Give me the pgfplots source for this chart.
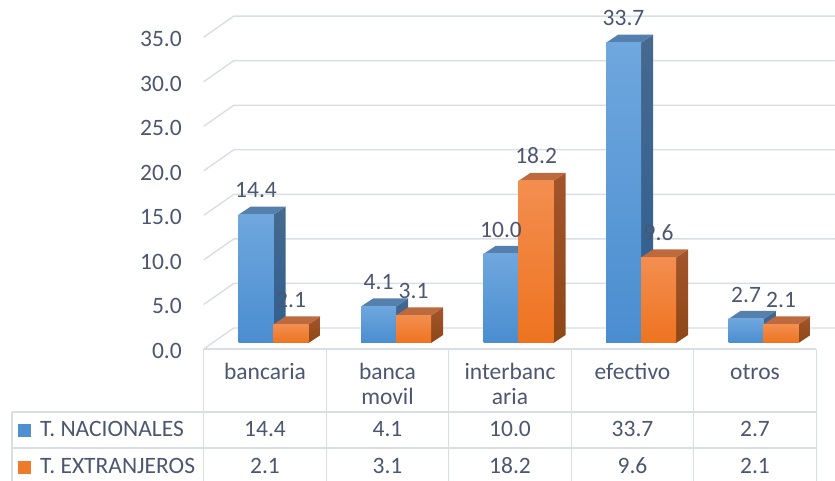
\documentclass[border=0pt]{standalone}
\usepackage{pgfplots}
\pgfplotsset{compat=1.18}
\usepackage{pgfplotstable}
\usepackage{fontspec}
\setmainfont{Carlito}

\definecolor{txt}{HTML}{4B5770}
\definecolor{gridc}{HTML}{D9DDE5}
\definecolor{bluefronttop}{HTML}{6FA7DE}
\definecolor{bluefrontbot}{HTML}{4A8DD0}
\definecolor{bluesidetop}{HTML}{46698F}
\definecolor{bluesidebot}{HTML}{2E5F90}
\definecolor{bluecap}{HTML}{5580AE}
\definecolor{orgfronttop}{HTML}{F38E50}
\definecolor{orgfrontbot}{HTML}{EE731F}
\definecolor{orgsidetop}{HTML}{A3552B}
\definecolor{orgsidebot}{HTML}{8E4716}
\definecolor{orgcap}{HTML}{BC6A3E}
\definecolor{bluekey}{HTML}{4F8FD2}
\definecolor{orgkey}{HTML}{EE7A2C}

\newcommand\lblfont{\fontsize{23.5}{24.5}\selectfont}
% category name on one or two lines, baseline at the first line
\newcommand\catlabel[2]{\begin{tabular}[t]{@{}c@{}}#1\\#2\end{tabular}}

% T. NACIONALES (nac) and T. EXTRANJEROS (ext) per payment type
\pgfplotstableread{
idx nac ext
0 14.4 2.1
1 4.1 3.1
2 10.0 18.2
3 33.7 9.6
4 2.7 2.1
}\tipos

% depth of the extruded columns, in axis units
\def\dX{0.098}
\def\dY{0.898}

% one 3-D column: x left, x right, value, front top/bottom, side top/bottom, cap colour
\newcommand\columnbox[8]{%
  \pgfmathsetmacro\xl{#1}%
  \pgfmathsetmacro\xr{#2}%
  \pgfmathsetmacro\xlb{#1+\dX}%
  \pgfmathsetmacro\xrb{#2+\dX}%
  \pgfmathsetmacro\vt{#3}%
  \pgfmathsetmacro\vb{#3+\dY}%
  \edef\drawcolumn{%
    \noexpand\addplot[draw=none, top color=#6, bottom color=#7, forget plot]
      coordinates {(\xr,0) (\xr,\vt) (\xrb,\vb) (\xrb,\dY)} -- cycle;
    \noexpand\addplot[draw=none, fill=#8, forget plot]
      coordinates {(\xl,\vt) (\xlb,\vb) (\xrb,\vb) (\xr,\vt)} -- cycle;
    \noexpand\addplot[draw=none, top color=#4, bottom color=#5, forget plot]
      coordinates {(\xl,0) (\xl,\vt) (\xr,\vt) (\xr,0)} -- cycle;
  }%
  \drawcolumn
}

\pgfplotsset{
  vlabel/.style={draw=none, mark=none, forget plot, point meta=explicit,
    nodes near coords={\pgfmathprintnumber[fixed,fixed zerofill,precision=1,assume math mode=true]{\pgfplotspointmeta}},
    every node near coord/.append style={anchor=base, text=txt, font=\lblfont, inner sep=0pt}},
}

\begin{document}
\begin{tikzpicture}
\begin{axis}[
  name=ax,
  x=122.5pt, y=8.91pt,
  xmin=-2.1633, xmax=4.6531, ymin=-15.488, ymax=38.496,
  axis lines*=left, axis line style={draw=none},
  ytick=\empty,
  xtick={0,...,4}, major tick length=0pt,
  xticklabels={\catlabel{bancaria}{},\catlabel{banca}{movil},\catlabel{interbanc}{aria},\catlabel{efectivo}{},\catlabel{otros}{}},
  xticklabel style={font=\lblfont, text=txt, anchor=base, inner sep=0pt, yshift=101pt},
  clip=false,
]
% back wall, side wall and value labels
\pgfplotsinvokeforeach{0,5,...,35}{
  \draw[gridc, line width=1.4pt] ([yshift=-6pt]axis cs:-0.5,#1) -- ++(30pt,21pt) -- ([yshift=15pt]axis cs:4.6531,#1);
  \node[anchor=base east, text=txt, font=\lblfont, inner sep=0pt] at ([xshift=-21.75pt, yshift=-15.5pt]axis cs:-0.5,#1)
    {\pgfmathprintnumber[fixed,fixed zerofill,precision=1,assume math mode=true]{#1}};
}

% labels of the orange series sit behind the blue columns
\addplot[vlabel] table[x expr=\thisrow{idx}+0.2129, y expr=\thisrow{ext}+1.89, meta=ext] {\tipos};

\pgfplotsinvokeforeach{0,1,2,3,4}{
  \pgfplotstablegetelem{#1}{nac}\of\tipos \let\vn\pgfplotsretval
  \pgfplotstablegetelem{#1}{ext}\of\tipos \let\ve\pgfplotsretval
  \columnbox{#1-0.2157}{#1+0.07}{\vn}{bluefronttop}{bluefrontbot}{bluesidetop}{bluesidebot}{bluecap}
  \columnbox{#1+0.07}{#1+0.3557}{\ve}{orgfronttop}{orgfrontbot}{orgsidetop}{orgsidebot}{orgcap}
}

\addplot[vlabel] table[x expr=\thisrow{idx}-0.0729, y expr=\thisrow{nac}+1.89, meta=nac] {\tipos};

% data table
\draw[gridc, line width=1.4pt] (axis cs:-0.5,-0.673) -- (axis cs:4.5,-0.673);
\draw[gridc, line width=1.4pt] (axis cs:-2.0653,-7.744) -- (axis cs:4.5,-7.744);
\draw[gridc, line width=1.4pt] (axis cs:-2.0653,-11.785) -- (axis cs:4.5,-11.785);
\draw[gridc, line width=1.4pt] (axis cs:-2.0653,-7.744) -- (axis cs:-2.0653,-15.488);
\pgfplotsinvokeforeach{-0.5,0.5,1.5,2.5,3.5,4.5}{
  \draw[gridc, line width=1.4pt] (axis cs:#1,-0.673) -- (axis cs:#1,-15.488);
}
\fill[bluekey] ([xshift=-6.5pt,yshift=-6.5pt]axis cs:-1.963,-9.877) rectangle ++(13pt,13pt);
\fill[orgkey] ([xshift=-6.5pt,yshift=-6.5pt]axis cs:-1.963,-13.97) rectangle ++(13pt,13pt);
\node[anchor=base west, text=txt, font=\lblfont, inner sep=0pt] at (axis cs:-1.8367,-10.55) {T. NACIONALES};
\node[anchor=base west, text=txt, font=\lblfont, inner sep=0pt] at (axis cs:-1.8367,-14.65) {T. EXTRANJEROS};

\addplot[vlabel] table[x=idx, y expr=-10.55, meta=nac] {\tipos};
\addplot[vlabel] table[x=idx, y expr=-14.65, meta=ext] {\tipos};
\end{axis}
\pgfresetboundingbox
\useasboundingbox (ax.south west) rectangle (ax.north east);
\end{tikzpicture}
\end{document}
